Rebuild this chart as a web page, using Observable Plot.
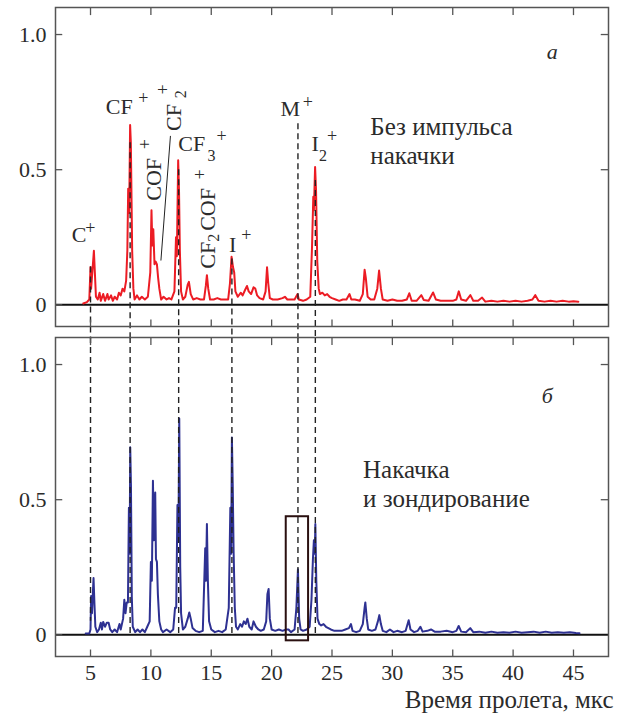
<!DOCTYPE html>
<html><head><meta charset="utf-8">
<script src="https://cdn.jsdelivr.net/npm/d3@7"></script>
<script src="https://cdn.jsdelivr.net/npm/@observablehq/plot@0.6"></script>
<style>
body{margin:0;background:#fff}
#chart svg, #chart svg text { font-family: "Liberation Serif", "DejaVu Serif", serif !important; }
</style>
</head><body><div id="chart"></div>
<script>
// ---------- data ----------
const panels = ["а", "б"];
const xTicks = [5, 10, 15, 20, 25, 30, 35, 40, 45];
const yTicks = [0, 0.5, 1.0];
const xLabel = "Время пролета, мкс";

// top panel spectrum (red) — "Без импульса накачки"
const redX = [4.4,4.7,4.9,5.0,5.05,5.15,5.28,5.36,5.45,5.6,5.75,5.85,6.05,6.2,6.4,6.5,6.7,6.85,7.0,7.2,7.35,7.5,7.65,7.8,7.95,8.05,8.12,8.2,8.28,8.34,8.4,8.45,8.55,8.65,8.85,9.05,9.25,9.5,9.75,9.95,10.05,10.12,10.2,10.3,10.4,10.5,10.6,10.7,10.85,11.05,11.3,11.5,11.7,11.95,12.08,12.15,12.26,12.33,12.4,12.5,12.65,12.85,13.05,13.15,13.3,13.5,13.8,14.1,14.4,14.55,14.64,14.75,14.9,15.2,15.5,15.8,16.1,16.4,16.55,16.68,16.8,16.9,17.0,17.2,17.45,17.6,17.8,17.96,18.1,18.3,18.5,18.65,18.8,19.0,19.3,19.5,19.62,19.72,19.85,20.1,20.5,20.9,21.1,21.3,21.6,21.9,22.15,22.25,22.6,22.9,23.2,23.35,23.45,23.5,23.6,23.68,23.78,23.9,24.0,24.2,24.4,24.6,24.8,25.0,25.3,25.6,25.9,26.2,26.45,26.6,26.9,27.3,27.55,27.7,27.8,27.95,28.2,28.5,28.75,28.9,29.05,29.2,29.6,30.0,30.4,30.8,31.2,31.4,31.6,32.0,32.4,32.6,33.0,33.37,33.6,34.0,34.5,35.0,35.3,35.5,35.7,36.1,36.46,36.7,37.1,37.43,37.7,38.2,38.7,39.2,39.7,40.2,40.7,41.2,41.6,41.84,42.1,42.6,43.1,43.6,44.1,44.6,45.0,45.4];
const redY = [0.005,0.01,0.02,0.14,0.06,0.12,0.20,0.12,0.03,0.02,0.045,0.015,0.04,0.015,0.04,0.02,0.035,0.015,0.03,0.02,0.045,0.035,0.06,0.05,0.09,0.2,0.43,0.34,0.665,0.6,0.38,0.2,0.06,0.02,0.035,0.02,0.03,0.02,0.03,0.12,0.35,0.22,0.28,0.15,0.16,0.15,0.1,0.06,0.02,0.03,0.02,0.025,0.02,0.05,0.25,0.18,0.535,0.42,0.2,0.05,0.02,0.03,0.075,0.085,0.04,0.02,0.025,0.02,0.02,0.07,0.11,0.06,0.02,0.02,0.025,0.02,0.02,0.02,0.08,0.178,0.14,0.12,0.05,0.03,0.045,0.035,0.055,0.07,0.05,0.04,0.065,0.06,0.035,0.025,0.02,0.05,0.139,0.08,0.025,0.02,0.02,0.025,0.03,0.02,0.02,0.02,0.04,0.02,0.015,0.02,0.03,0.22,0.40,0.35,0.51,0.42,0.16,0.06,0.04,0.045,0.035,0.04,0.03,0.025,0.02,0.015,0.02,0.02,0.04,0.02,0.02,0.015,0.04,0.13,0.1,0.03,0.02,0.02,0.06,0.127,0.06,0.02,0.015,0.02,0.015,0.015,0.02,0.043,0.015,0.015,0.036,0.018,0.015,0.046,0.02,0.015,0.015,0.015,0.02,0.05,0.02,0.015,0.036,0.015,0.015,0.027,0.012,0.015,0.012,0.015,0.012,0.015,0.012,0.015,0.02,0.036,0.015,0.012,0.015,0.012,0.015,0.012,0.013,0.012];

// bottom panel spectrum (blue) — "Накачка и зондирование"
const blueX = [4.6,4.9,5.0,5.05,5.12,5.18,5.25,5.33,5.4,5.55,5.7,5.85,5.95,6.05,6.2,6.35,6.5,6.63,6.8,7.0,7.2,7.4,7.5,7.7,7.8,7.9,8.0,8.1,8.18,8.24,8.29,8.35,8.42,8.5,8.7,8.9,9.1,9.3,9.5,9.7,9.9,10.0,10.08,10.17,10.25,10.36,10.42,10.5,10.58,10.7,10.85,11.0,11.3,11.6,11.85,12.0,12.1,12.2,12.28,12.35,12.43,12.5,12.65,12.85,13.05,13.18,13.3,13.45,13.7,14.0,14.3,14.5,14.56,14.64,14.72,14.82,15.0,15.3,15.6,15.9,16.2,16.45,16.58,16.65,16.71,16.78,16.85,16.95,17.05,17.2,17.4,17.55,17.7,17.85,18.0,18.15,18.35,18.5,18.7,18.9,19.1,19.35,19.55,19.65,19.75,19.85,20.0,20.3,20.6,20.9,21.2,21.4,21.6,21.9,22.05,22.18,22.28,22.4,22.6,22.9,23.15,23.3,23.42,23.5,23.58,23.62,23.7,23.8,23.95,24.1,24.3,24.5,24.7,24.9,25.2,25.5,25.8,26.1,26.4,26.57,26.7,27.0,27.3,27.55,27.7,27.76,27.88,28.0,28.3,28.6,28.8,28.92,29.05,29.2,29.5,29.8,30.1,30.4,30.8,31.1,31.35,31.5,31.8,32.1,32.32,32.5,32.9,33.2,33.5,34.0,34.5,35.0,35.3,35.49,35.7,36.1,36.45,36.7,37.2,37.7,38.2,38.7,39.2,39.7,40.2,40.7,41.2,41.7,42.2,42.7,43.2,43.7,44.2,44.7,45.2,45.5];
const blueY = [0.005,0.005,0.02,0.144,0.08,0.14,0.21,0.11,0.03,0.01,0.02,0.045,0.02,0.048,0.03,0.045,0.045,0.02,0.01,0.02,0.01,0.04,0.02,0.06,0.13,0.08,0.12,0.12,0.47,0.3,0.694,0.55,0.14,0.03,0.01,0.02,0.01,0.02,0.01,0.03,0.05,0.27,0.2,0.57,0.35,0.527,0.28,0.27,0.15,0.05,0.02,0.01,0.02,0.01,0.02,0.1,0.1,0.48,0.35,0.80,0.25,0.08,0.02,0.03,0.06,0.083,0.06,0.025,0.015,0.01,0.015,0.32,0.2,0.41,0.2,0.05,0.02,0.01,0.015,0.01,0.02,0.1,0.47,0.3,0.73,0.55,0.31,0.1,0.03,0.02,0.04,0.03,0.05,0.04,0.06,0.03,0.02,0.05,0.03,0.02,0.015,0.02,0.05,0.15,0.17,0.06,0.02,0.015,0.02,0.015,0.02,0.02,0.01,0.02,0.1,0.243,0.06,0.02,0.015,0.02,0.03,0.13,0.28,0.35,0.3,0.41,0.2,0.06,0.04,0.035,0.04,0.03,0.025,0.02,0.015,0.015,0.015,0.02,0.025,0.04,0.015,0.01,0.015,0.04,0.1,0.12,0.06,0.02,0.015,0.02,0.05,0.073,0.04,0.015,0.01,0.02,0.01,0.015,0.01,0.015,0.054,0.02,0.01,0.015,0.03,0.012,0.015,0.02,0.012,0.012,0.015,0.01,0.015,0.033,0.012,0.01,0.025,0.01,0.012,0.008,0.012,0.008,0.01,0.008,0.012,0.008,0.01,0.012,0.008,0.012,0.008,0.01,0.008,0.01,0.007,0.006];

// ion markers (dashed guide lines)
const ionNames = ["C+", "CF+", "CF3+", "I+", "M+", "I2+"];
const ionX = [5.0, 8.28, 12.3, 16.71, 22.18, 23.62];
const ionTopStart = [0.14, 0.6, 0.5, 0.17, 0.67, 0.46];
const ionBottomEnd = [0.05, 0, 0, 0, 0, 0];

// peak labels in top panel: [text, x, y, kind]
const peakLabels = [
  ["C", 4.06, 0.259, "big"], ["+", 4.98, 0.285, "plus"],
  ["CF", 7.38, 0.732, "big"], ["+", 9.37, 0.764, "plus"],
  ["CF", 13.38, 0.595, "big"], ["3", 15.02, 0.552, "sub"], ["+", 15.85, 0.622, "plus"],
  ["I", 16.78, 0.222, "big"], ["+", 17.9, 0.259, "plus"],
  ["M", 21.55, 0.724, "big"], ["+", 23.0, 0.749, "plus"],
  ["I", 23.6, 0.595, "big"], ["2", 24.25, 0.552, "sub"], ["+", 25.0, 0.622, "plus"]
];
const rotLabels = [
  ["CF", 11.93, 0.643], ["COF", 10.24, 0.385], ["CF", 14.69, 0.134], ["COF", 14.69, 0.274]
];
const rotSmall = [
  ["2", 12.52, 0.779, "sub"], ["+", 11.05, 0.797, "plus"], ["+", 9.53, 0.594, "plus"], ["2", 15.21, 0.248, "sub"], ["+", 14.09, 0.483, "plus"]
];
const leader = [{x1: 11.62, y1: 0.625, x2: 10.83, y2: 0.164}];
const frameBox = [{x1: 21.21, x2: 23.06, y1: -0.022, y2: 0.437}];

const panelTitles = ["а", "б"];
const panelTitleX = [43.24, 42.83];
const panelTitleY = [0.937, 0.885];
const panelNotes = ["Без импульса\nнакачки", "Накачка\nи зондирование"];
const panelNoteX = [28.17, 27.57];
const panelNoteY = [0.705, 0.656];

// ---------- build tables ----------
const xDom = [2.1, 47.9], yDom = [-0.08, 1.1];
const red = redX.map((x, i) => ({panel: panels[0], x, y: redY[i]}));
const blue = blueX.map((x, i) => ({panel: panels[1], x, y: blueY[i]}));
const ionTop = ionX.map((x, i) => ({panel: panels[0], name: ionNames[i], x, y1: ionTopStart[i], y2: -0.125}));
const ionBot = ionX.map((x, i) => ({panel: panels[1], name: ionNames[i], x, y1: yDom[1], y2: ionBottomEnd[i]}));
const labels = peakLabels.map(([t, x, y, s]) => ({panel: panels[0], t, x, y, s}));
const rlabels = rotLabels.map(([t, x, y]) => ({panel: panels[0], t, x, y}));
const rsmall = rotSmall.map(([t, x, y, s]) => ({panel: panels[0], t, x, y, s}));
const leaderD = leader.map(d => ({...d, panel: panels[0]}));
const boxD = frameBox.map(d => ({...d, panel: panels[1]}));
const titles = panels.map((p, i) => ({panel: p, t: panelTitles[i], x: panelTitleX[i], y: panelTitleY[i]}));
const notes = panels.map((p, i) => ({panel: p, t: panelNotes[i], x: panelNoteX[i], y: panelNoteY[i]}));
const axisTitle = [{panel: panels[1], t: xLabel}];

const ink = "#2b2b2b";
const sizeOf = d => d.s === "plus" ? 18 : d.s === "sub" ? 16 : 22;
const chart = Plot.plot({
  width: 627, height: 715,
  marginTop: 7, marginBottom: 59, marginLeft: 55, marginRight: 19,
  style: {fontFamily: "'Liberation Serif', serif", fontSize: "22px", color: ink, background: "#fff"},
  x: {domain: xDom},
  y: {domain: yDom},
  fy: {domain: panels, paddingInner: 0.0342, paddingOuter: 0, axis: null, label: null},
  marks: [
    Plot.ruleY([0], {stroke: "#111", strokeWidth: 2}),
    Plot.line(red, {x: "x", y: "y", fy: "panel", stroke: "#ec1c24", strokeWidth: 2}),
    Plot.line(blue, {x: "x", y: "y", fy: "panel", stroke: "#2e3192", strokeWidth: 2}),
    Plot.ruleX(ionTop, {x: "x", y1: "y1", y2: "y2", fy: "panel", stroke: "#222", strokeWidth: 1.4, strokeDasharray: "6,4"}),
    Plot.ruleX(ionBot, {x: "x", y1: "y1", y2: "y2", fy: "panel", stroke: "#222", strokeWidth: 1.4, strokeDasharray: "6,4"}),
    Plot.rect(boxD, {x1: "x1", x2: "x2", y1: "y1", y2: "y2", fy: "panel", fill: "none", stroke: "#2a1010", strokeWidth: 2}),
    Plot.link(leaderD, {x1: "x1", y1: "y1", x2: "x2", y2: "y2", fy: "panel", stroke: "#222", strokeWidth: 1}),
    // inward ticks
    Plot.ruleX(xTicks, {x: d => d, y1: yDom[1], y2: yDom[1] - 0.03, stroke: "#555", strokeWidth: 1.3}),
    Plot.ruleX(xTicks, {x: d => d, y1: yDom[0], y2: yDom[0] + 0.024, stroke: "#555", strokeWidth: 1.3}),
    Plot.ruleY(yTicks, {y: d => d, x1: xDom[0], x2: xDom[0] + 0.6, stroke: "#555", strokeWidth: 1.3}),
    Plot.ruleY(yTicks.filter(d => d > 0), {y: d => d, x1: xDom[1] - 0.6, x2: xDom[1], stroke: "#555", strokeWidth: 1.3}),
    Plot.frame({stroke: "#555", strokeWidth: 1.5}),
    // labels
    Plot.text(labels, {x: "x", y: "y", fy: "panel", text: "t", fontSize: sizeOf, fill: ink}),
    Plot.text(rlabels, {x: "x", y: "y", fy: "panel", text: "t", fontSize: 22, rotate: -90, textAnchor: "start", fill: ink}),
    Plot.text(rsmall, {x: "x", y: "y", fy: "panel", text: "t", fontSize: sizeOf, rotate: -90, fill: ink}),
    Plot.text(titles, {x: "x", y: "y", fy: "panel", text: "t", fontSize: 22, fontStyle: "italic", fill: ink}),
    Plot.text(notes, {x: "x", y: "y", fy: "panel", text: "t", fontSize: 25, textAnchor: "start", lineAnchor: "top", lineHeight: 1.16, fill: ink}),
    Plot.text(axisTitle, {fy: "panel", text: "t", frameAnchor: "bottom-right", textAnchor: "end", lineAnchor: "bottom", dx: 5, dy: 51, fontSize: 25, fill: ink}),
    // axes
    Plot.axisY(yTicks, {anchor: "left", tickSize: 0, tickPadding: 9, fontSize: 22, label: null, tickFormat: d => d === 0 ? "0" : d.toFixed(1)}),
    Plot.axisX(xTicks, {anchor: "bottom", tickSize: 0, tickPadding: 8, fontSize: 22, label: null})
  ]
});
document.getElementById("chart").appendChild(chart);
</script>
</body></html>
